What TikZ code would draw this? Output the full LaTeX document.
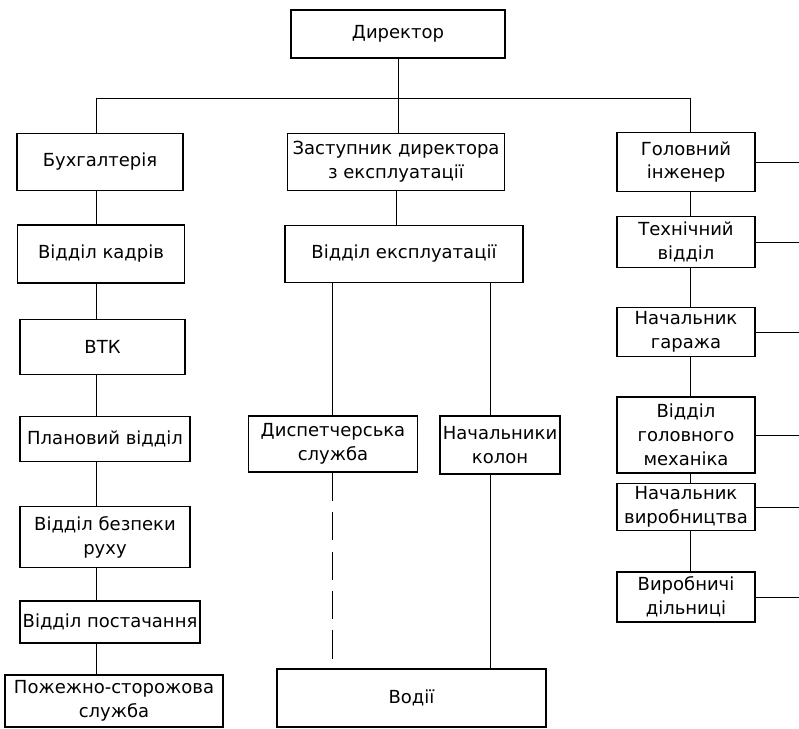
\documentclass[tikz,border=0pt]{standalone}
\usepackage{fontspec}
\setmainfont{DejaVu Sans}
\usepackage{tikz}

\begin{document}
\begin{tikzpicture}[x=0.025cm, y=-0.025cm]
                    \tikzstyle{box} = [rectangle, draw=black, line width=1.3pt, align=center, inner sep=1pt, font=\fontsize{12.8}{17}\selectfont]
                    \tikzstyle{link} = [draw=black, line width=0.6pt]
                    \tikzstyle{wh} = [minimum width=#1*0.025cm]
                    \tikzstyle{ht} = [minimum height=#1*0.025cm]
                    \useasboundingbox (0,0) rectangle (799,728);

                    % top
                    \node[box, wh=214, ht=48] (dir) at (398, 34) {Директор};
                    \coordinate (busL) at (96, 98);
                    \coordinate (busR) at (690, 98);
                    \coordinate (edge) at (799, 0);

                    % left column
                    \node[box, wh=166, ht=57] (buh) at (100, 162) {Бухгалтерія};
                    \node[box, wh=167, ht=58] (kadry) at (101, 254) {Відділ кадрів};
                    \node[box, wh=165, ht=55] (vtk) at (102.5, 347) {ВТК};
                    \node[box, wh=170, ht=45] (plan) at (105, 439) {Плановий відділ};
                    \node[box, wh=170, ht=61] (bezp) at (105, 537) {Відділ безпеки\\руху};
                    \node[box, wh=180, ht=42] (post) at (110, 622) {Відділ постачання};
                    \node[box, wh=218, ht=52] (pozh) at (114, 701) {Пожежно-сторожова\\служба};

                    % middle column
                    \node[box, wh=217, ht=57] (zast) at (396, 162) {Заступник директора\\з експлуатації};
                    \node[box, wh=238, ht=57] (ekspl) at (404, 254) {Відділ експлуатації};
                    \node[box, wh=169, ht=56] (disp) at (333, 444) {Диспетчерська\\служба};
                    \node[box, wh=120, ht=58] (kolon) at (500, 445) {Начальники\\колон};
                    \node[box, wh=269, ht=58] (vodii) at (411.5, 698) {Водії};
                    \coordinate (dispX) at (332, 0);
                    \coordinate (kolX) at (490, 0);

                    % right column
                    \node[box, wh=138, ht=59] (holov) at (686, 162) {Головний\\інженер};
                    \node[box, wh=138, ht=51] (tekh) at (686, 242) {Технічний\\відділ};
                    \node[box, wh=138, ht=49] (garazh) at (686, 332) {Начальник\\гаража};
                    \node[box, wh=138, ht=76] (mekh) at (686, 435) {Відділ\\головного\\механіка};
                    \node[box, wh=138, ht=47] (vyrob) at (686, 507) {Начальник\\виробництва};
                    \node[box, wh=138, ht=50] (dil) at (686, 597) {Виробничі\\дільниці};

                    % connectors
                    \draw[link] (busL) -- (busR);
                    \draw[link] (dir.south) -- (dir.south |- zast.north);
                    \draw[link] (busL) -- (buh.north -| busL);
                    \draw[link] (busR) -- (holov.north -| busR);
                    \draw[link] (zast.south) -- (zast.south |- ekspl.north);
                    \foreach \a/\b in {buh/kadry, kadry/vtk, vtk/plan, plan/bezp, bezp/post, post/pozh}
                        \draw[link] (\a.south -| busL) -- (\b.north -| busL);
                    \foreach \a/\b in {holov/tekh, tekh/garazh, garazh/mekh, mekh/vyrob, vyrob/dil}
                        \draw[link] (\a.south -| busR) -- (\b.north -| busR);
                    \foreach \n in {holov, tekh, garazh, mekh, vyrob, dil}
                        \draw[link] (\n.east) -- (\n.east -| edge);
                    \draw[link] (ekspl.south -| dispX) -- (disp.north -| dispX);
                    \draw[link] (ekspl.south -| kolX) -- (kolon.north -| kolX);
                    \draw[link, dash pattern=on 20pt off 8pt] (disp.south -| dispX) -- (vodii.north -| dispX);
                    \draw[link] (kolon.south -| kolX) -- (vodii.north -| kolX);
                \end{tikzpicture}
\end{document}
